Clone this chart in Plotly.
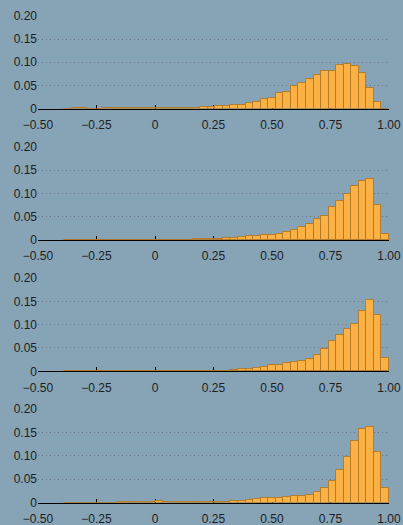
import plotly.graph_objects as go

# Histogram bins: bin j spans [j/31, (j+1)/31], j = -12 .. 30
bin_width = 1 / 31
bin_index = list(range(-12, 31))

panel1 = [0, 0.0004, 0.0004, 0, 0, 0.0004, 0.0004, 0.0004, 0.0004, 0.0004, 0.0004, 0.0004,
          0.0003, 0.0005, 0.0008, 0.0014, 0.0015, 0.002, 0.003, 0.0039, 0.0047, 0.006, 0.0068,
          0.0075, 0.012, 0.0145, 0.021, 0.023, 0.034, 0.036, 0.049, 0.055, 0.063, 0.072, 0.081,
          0.081, 0.095, 0.096, 0.091, 0.076, 0.044, 0.014, 0]
panel2 = [0] * 11 + [0.0004, 0.0004, 0.0004, 0.0005, 0.0006, 0.0008,
          0.0014, 0.0015, 0.002, 0.003, 0.0036, 0.0043, 0.0057, 0.0079, 0.0086, 0.010, 0.011,
          0.0136, 0.018, 0.021, 0.027, 0.034, 0.045, 0.052, 0.071, 0.083, 0.098, 0.116, 0.126,
          0.131, 0.076, 0.0136]
panel3 = [0] * 14 + [0.0005] * 6 + [0.0008, 0.0012, 0.003, 0.004, 0.0043, 0.0064, 0.0088,
          0.0145, 0.014, 0.018, 0.020, 0.022, 0.027, 0.034, 0.048, 0.065, 0.078, 0.090, 0.102,
          0.129, 0.153, 0.120, 0.029]
panel4 = [0] * 7 + [0.0005] * 4 + [0.002, 0.003, 0.0015, 0.0006, 0.0006, 0.0007, 0.0008,
          0.001, 0.0012, 0.0014, 0.002, 0.003, 0.004, 0.0056, 0.007, 0.009, 0.009, 0.009, 0.011,
          0.013, 0.013, 0.017, 0.023, 0.030, 0.047, 0.070, 0.098, 0.132, 0.158, 0.162, 0.108,
          0.030]
panels = [panel1, panel2, panel3, panel4]

x_tickvals = [-0.5, -0.25, 0, 0.25, 0.5, 0.75, 1.0]
x_ticktext = ["\u22120.50", "\u22120.25", "0", "0.25", "0.50", "0.75", "1.00"]
y_tickvals = [0, 0.05, 0.10, 0.15, 0.20]
y_ticktext = ["0", "0.05", "0.10", "0.15", "0.20"]
grid_vals = [0.05, 0.10, 0.15]

BG = "rgb(135,163,182)"
FILL = "rgb(252,177,68)"
EDGE = "rgba(175,118,35,0.85)"
TXT = "#1e1e1e"

centers = [(j + 0.5) * bin_width for j in bin_index]

H = 525
top, bottom = 16, 22
area = H - top - bottom
panel_px = [(16, 108.5), (147, 240), (278, 371.3), (409, 502.5)]

fig = go.Figure()
layout = dict(
    width=403, height=H,
    margin=dict(l=38, r=14, t=top, b=bottom, autoexpand=False),
    paper_bgcolor=BG, plot_bgcolor=BG,
    showlegend=False, bargap=0,
    font=dict(family="Liberation Sans, Arial, sans-serif", size=12, color=TXT),
)

for k, vals in enumerate(panels):
    n = "" if k == 0 else str(k + 1)
    fig.add_trace(go.Bar(
        x=centers, y=vals, width=bin_width,
        marker=dict(color=FILL, line=dict(color=EDGE, width=1)),
        xaxis="x" + n, yaxis="y" + n, hoverinfo="skip",
    ))
    t_px, b_px = panel_px[k]
    d0 = (H - bottom - b_px) / area
    d1 = (H - bottom - t_px) / area
    layout["xaxis" + n] = dict(
        domain=[0, 1], anchor="y" + n, range=[-0.5, 1.0], automargin=False,
        tickmode="array", tickvals=x_tickvals, ticktext=x_ticktext,
        ticks="inside", ticklen=4, tickcolor="black", tickwidth=1,
        showline=True, linecolor="black", linewidth=1,
        showgrid=False, zeroline=False, layer="below traces",
        ticklabelstandoff=5,
        tickfont=dict(size=12, color=TXT),
    )
    layout["yaxis" + n] = dict(
        domain=[max(d0, 0), min(d1, 1)], anchor="x" + n, range=[0, 0.2], automargin=False,
        tickmode="array", tickvals=y_tickvals, ticktext=y_ticktext,
        ticks="", showline=False, showgrid=False, zeroline=False,
        tickfont=dict(size=12, color=TXT),
        minor=dict(tickmode="array", tickvals=grid_vals, showgrid=True,
                   gridcolor="rgba(95,105,115,0.75)", griddash="1px,3px", gridwidth=1,
                   ticks=""),
    )

fig.update_layout(**layout)
fig.write_html(
    "out.html",
    config={"displayModeBar": False},
    post_script=["document.body.style.margin='0px';document.body.style.overflow='hidden';"],
)
